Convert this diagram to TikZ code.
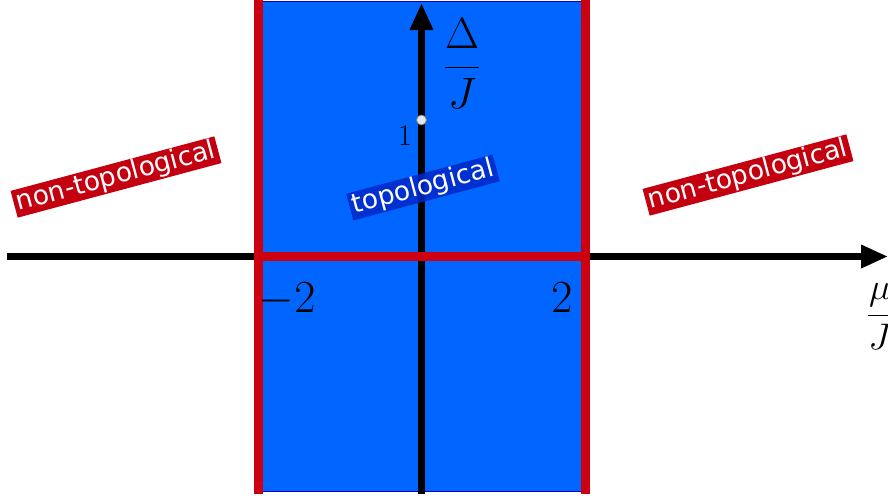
\RequirePackage{fix-cm}
\documentclass[tikz,border=0pt]{standalone}
\usepackage{amsmath}
\usepackage{fontspec}
\newfontfamily\labelfont{DejaVu Sans}
\usetikzlibrary{arrows.meta}
\definecolor{regionblue}{RGB}{0,102,255}
\definecolor{edgeblue}{RGB}{0,0,200}
\definecolor{phasered}{RGB}{204,0,16}
\definecolor{tagred}{RGB}{196,0,16}
\definecolor{tagblue}{RGB}{0,40,200}
\tikzset{
  axisline/.style={line width=6.5pt, -{Triangle[length=27pt,width=22pt]}},
  redline/.style={phasered, line width=8.5pt},
  phasetag/.style={text=white, inner xsep=3pt, inner ysep=1pt, rotate=15,
    font=\labelfont\fontsize{26.5}{31}\selectfont},
  mathlbl/.style={inner sep=0pt},
}
\begin{document}
\begin{tikzpicture}[x=1pt,y=-1pt]
\useasboundingbox (0,0) rectangle (888,498);
\clip (0,0) rectangle (888,498);
% topological region
\draw[fill=regionblue, draw=edgeblue, line width=1pt] (258,1.5) rectangle (585.5,491);
% axes
\coordinate (xstart) at (7,256.5);
\coordinate (xend) at (888,256.5);
\coordinate (ystart) at (421.5,494);
\coordinate (yend) at (421.5,3);
\draw[axisline] (ystart) -- (yend);
\draw[axisline] (xstart) -- (xend);
% phase boundaries
\coordinate (lt) at (258.5,0);
\coordinate (lb) at (258.5,494);
\coordinate (rt) at (585.5,0);
\coordinate (rb) at (585.5,494);
\coordinate (hl) at (258.5,256.5);
\coordinate (hr) at (585.5,256.5);
\draw[redline] (hl) -- (hr);
\draw[redline] (lt) -- (lb);
\draw[redline] (rt) -- (rb);
% point at Delta/J = 1
\node[circle, fill={rgb,255:red,225;green,232;blue,240}, draw=gray, line width=0.8pt, minimum size=10pt, inner sep=0pt] (pt) at (421.5,120) {};
\node[mathlbl, anchor=base] (one) at (405,145) {\fontsize{30}{36}\selectfont $1$};
% axis labels
\node[mathlbl] (dlbl) at (462,63.5) {\fontsize{44}{52}\selectfont $\dfrac{\Delta}{J}$};
\node[mathlbl] (mlbl) at (880,316.5) {\fontsize{37}{44}\selectfont $\dfrac{\mu}{J}$};
\node[mathlbl, anchor=base] (mtwo) at (287,312.5) {\fontsize{46}{54}\selectfont $-2$};
\node[mathlbl, anchor=base] (two) at (562,312.5) {\fontsize{46}{54}\selectfont $2$};
% phase tags
\node[phasetag, fill=tagred] (ntl) at (116,177) {non-topological};
\node[phasetag, fill=tagred] (ntr) at (748,175) {non-topological};
\node[phasetag, fill=tagblue, fill opacity=0.85, text opacity=1] (top) at (423,187.5) {topological};
\end{tikzpicture}
\end{document}
